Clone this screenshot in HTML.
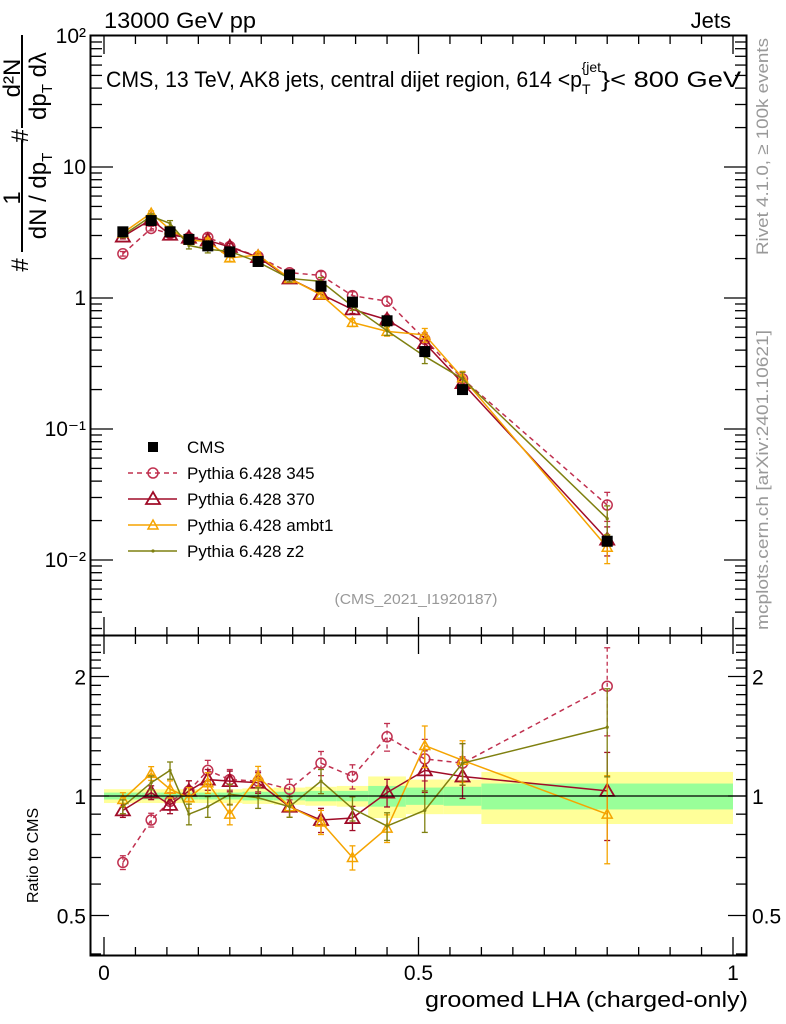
<!DOCTYPE html>
<html><head><meta charset="utf-8"><style>
html,body{margin:0;padding:0;background:#fff;}
svg{display:block;font-family:"Liberation Sans",sans-serif;}
</style></head><body>
<svg id="chart" width="786" height="1024" viewBox="0 0 786 1024" xmlns="http://www.w3.org/2000/svg">
<g id="bands"></g>
<g id="ticks"></g>
<g id="series"></g>
<rect x="90.5" y="35.5" width="656" height="600" fill="none" stroke="#000" stroke-width="2"/>
<rect x="90.5" y="635.5" width="656" height="320" fill="none" stroke="#000" stroke-width="2"/>
<line x1="91" x2="746" y1="796" y2="796" stroke="#000" stroke-width="1.3"/>
<text x="104" y="28" font-size="22" textLength="152" lengthAdjust="spacingAndGlyphs">13000 GeV pp</text>
<text x="731" y="28" font-size="22" text-anchor="end">Jets</text>
<text x="106" y="87" font-size="22"><tspan textLength="476" lengthAdjust="spacingAndGlyphs">CMS, 13 TeV, AK8 jets, central dijet region, 614 &lt;p</tspan><tspan font-size="14" dy="7">T</tspan><tspan font-size="14" dy="-22" dx="-9">{jet</tspan><tspan dy="15" textLength="140" lengthAdjust="spacingAndGlyphs">}&lt; 800 GeV</tspan></text>
<text x="416" y="604" font-size="15" fill="#999" text-anchor="middle" textLength="163" lengthAdjust="spacingAndGlyphs">(CMS_2021_I1920187)</text>
<text transform="translate(768,255) rotate(-90)" font-size="17" fill="#999" textLength="217" lengthAdjust="spacingAndGlyphs">Rivet 4.1.0, ≥ 100k events</text>
<text transform="translate(768,630) rotate(-90)" font-size="17" fill="#999" textLength="300" lengthAdjust="spacingAndGlyphs">mcplots.cern.ch [arXiv:2401.10621]</text>
<text x="748" y="1007" font-size="22" text-anchor="end" textLength="323" lengthAdjust="spacingAndGlyphs">groomed LHA (charged-only)</text>
<text transform="translate(38,903) rotate(-90)" font-size="16">Ratio to CMS</text>
<g font-size="24">
<text transform="translate(20,198) rotate(-90)" text-anchor="middle">1</text>
<text transform="translate(46,196) rotate(-90)" text-anchor="middle">dN / dp<tspan font-size="15" dy="6">T</tspan></text>
<line x1="22" x2="22" y1="140" y2="252" stroke="#000" stroke-width="2"/>
<text transform="translate(28,265) rotate(-90)" text-anchor="middle">#</text>
<text transform="translate(20,78) rotate(-90)" text-anchor="middle">d²N</text>
<text transform="translate(46,86) rotate(-90)" text-anchor="middle">dp<tspan font-size="15" dy="6">T</tspan><tspan dy="-6"> dλ</tspan></text>
<line x1="22" x2="22" y1="35" y2="128" stroke="#000" stroke-width="2"/>
<text transform="translate(28,136) rotate(-90)" text-anchor="middle">#</text>
</g>
<g id="legend"></g>
</svg>
<script>
const binEdges=[0,0.06,0.09,0.12,0.15,0.18,0.22,0.27,0.32,0.37,0.42,0.48,0.54,0.6,1.0];
const cmsValues=[3.2,3.9,3.2,2.8,2.5,2.25,1.9,1.5,1.23,0.93,0.67,0.39,0.2,0.0139];
const statBand=[0.02,0.02,0.02,0.02,0.02,0.02,0.025,0.025,0.03,0.03,0.06,0.05,0.055,0.075];
const totBand=[0.04,0.04,0.04,0.04,0.04,0.04,0.045,0.05,0.055,0.06,0.12,0.1,0.1,0.15];
const ratio345=[0.68,0.87,0.97,1.03,1.16,1.10,1.09,1.04,1.21,1.12,1.41,1.24,1.21,1.89];
const ratio370=[0.92,1.02,0.95,1.03,1.10,1.09,1.08,0.94,0.87,0.88,1.02,1.16,1.12,1.03];
const ratioAmbt1=[0.98,1.14,1.04,0.99,1.08,0.90,1.12,0.94,0.86,0.70,0.83,1.34,1.23,0.90];
const ratioZ2=[0.94,1.08,1.16,0.90,0.94,1.01,0.99,0.94,1.09,0.93,0.84,0.92,1.21,1.49];
const relErr=[0.04,0.04,0.05,0.06,0.06,0.06,0.06,0.06,0.07,0.07,0.08,0.12,0.12,0.25];
const yMainTicks=["10⁻²","10⁻¹","1","10","10²"];
const ratioTickLabels=["0.5","1","2"];
const xTickLabels=["0","0.5","1"];

const NS="http://www.w3.org/2000/svg";
const X=v=>104+629*v;
const Ym=v=>298-131*Math.log10(v);
const Yr=v=>796-397*Math.log10(v);
function mk(tag,attrs,parent){const e=document.createElementNS(NS,tag);for(const k in attrs)e.setAttribute(k,attrs[k]);parent.appendChild(e);return e;}
const centers=binEdges.slice(0,-1).map((e,i)=>(e+binEdges[i+1])/2);

const bands=document.getElementById('bands');
for(let i=0;i<cmsValues.length;i++){
  const x1=X(binEdges[i]),x2=X(binEdges[i+1]);
  const y=mk('rect',{x:x1,width:x2-x1,y:Yr(1+totBand[i]),height:Yr(1-totBand[i])-Yr(1+totBand[i]),fill:'#ffff99'},bands);
  
  
  const g=mk('rect',{x:x1,width:x2-x1,y:Yr(1+statBand[i]),height:Yr(1-statBand[i])-Yr(1+statBand[i]),fill:'#99ff99'},bands);
  
  
}

const T=document.getElementById('ticks');
function tk(x1,y1,x2,y2){mk('line',{x1,y1,x2,y2,stroke:'#000','stroke-width':1.3},T);}
function lbl(x,y,s,anchor,size){const t=mk('text',{x,y,'font-size':size||20,'text-anchor':anchor},T);t.textContent=s;}
for(let d=-3;d<=1;d++){for(let m=1;m<10;m++){const v=m*Math.pow(10,d);const y=Ym(v);if(y<36||y>635)continue;const L=m===1?22:11;tk(91,y,91+L,y);tk(746,y,746-L,y);}}
yMainTicks.forEach((s,i)=>{const y=Ym(Math.pow(10,i-2));lbl(86,y+7,s,'end',21);});
for(let v=0.4;v<=2.5;v+=0.1){const r=Math.round(v*10)/10;const y=Yr(r);if(y<636||y>955)continue;const L=(r===0.5||r===1||r===2)?18:10;tk(91,y,91+L,y);tk(746,y,746-L,y);}
[0.5,1,2].forEach((r,i)=>{const y=Yr(r);lbl(86,y+8,ratioTickLabels[i],'end',21);lbl(752,y+8,ratioTickLabels[i],'start',21);});
for(let k=0;k<=20;k++){const v=k*0.05,x=X(v);const L=(k%10===0)?18:8;tk(x,635,x,635-L);tk(x,36,x,36+L);tk(x,636,x,636+L);tk(x,955,x,955-L);}
[0,0.5,1].forEach((v,i)=>lbl(X(v),980,xTickLabels[i],'middle',21));

const S=document.getElementById('series');
const series=[
 {name:'pythia-345',r:ratio345,c:'#c0304f',dash:'5,4',m:'circle'},
 {name:'pythia-370',r:ratio370,c:'#a00c28',dash:'',m:'tri-big'},
 {name:'pythia-ambt1',r:ratioAmbt1,c:'#f5a400',dash:'',m:'tri'},
 {name:'pythia-z2',r:ratioZ2,c:'#7f8010',dash:'',m:'dot'}
];
function marker(m,x,y,c,parent){
  if(m==='circle')return mk('circle',{cx:x,cy:y,r:5,fill:'none',stroke:c,'stroke-width':1.5},parent);
  if(m==='tri-big')return mk('path',{d:`M${x},${y-7}L${x+7},${y+5}L${x-7},${y+5}Z`,fill:'none',stroke:c,'stroke-width':1.8},parent);
  if(m==='tri')return mk('path',{d:`M${x},${y-5}L${x+5},${y+4}L${x-5},${y+4}Z`,fill:'none',stroke:c,'stroke-width':1.5},parent);
  return mk('circle',{cx:x,cy:y,r:1.6,fill:c},parent);
}
series.forEach(s=>{
  const g=mk('g',{},S);
  
  
  const vals=s.r.map((r,i)=>r*cmsValues[i]);
  mk('polyline',{points:vals.map((v,i)=>X(centers[i])+','+Ym(v)).join(' '),fill:'none',stroke:s.c,'stroke-width':1.5,'stroke-dasharray':s.dash},g);
  mk('polyline',{points:s.r.map((v,i)=>X(centers[i])+','+Yr(v)).join(' '),fill:'none',stroke:s.c,'stroke-width':1.5,'stroke-dasharray':s.dash},g);
  s.r.forEach((r,i)=>{
    const x=X(centers[i]),e=relErr[i];
    [[Ym(vals[i]*(1+e)),Ym(vals[i]*(1-e))],[Yr(r*(1+e)),Yr(r*(1-e))]].forEach(([a,b])=>{
      mk('line',{x1:x,x2:x,y1:a,y2:b,stroke:s.c,'stroke-width':1.3,'stroke-dasharray':s.dash?'4,3':''},g);
      mk('line',{x1:x-3,x2:x+3,y1:a,y2:a,stroke:s.c,'stroke-width':1.3},g);
      mk('line',{x1:x-3,x2:x+3,y1:b,y2:b,stroke:s.c,'stroke-width':1.3},g);
    });
    const p=marker(s.m,x,Ym(vals[i]),s.c,g);
    
    
    const q=marker(s.m,x,Yr(r),s.c,g);
    
    
  });
});
cmsValues.forEach((v,i)=>{
  const r=mk('rect',{x:X(centers[i])-5.5,y:Ym(v)-5.5,width:11,height:11,fill:'#000'},S);
  
  
});

const Lg=document.getElementById('legend');
const legItems=[['CMS','#000','', 'sq'],['Pythia 6.428 345','#c0304f','5,4','circle'],['Pythia 6.428 370','#a00c28','','tri-big'],['Pythia 6.428 ambt1','#f5a400','','tri'],['Pythia 6.428 z2','#7f8010','','dot']];
legItems.forEach((it,i)=>{
  const y=447+i*26;
  const g=mk('g',{},Lg);
  
  
  if(it[3]==='sq'){mk('rect',{x:148,y:y-5,width:10,height:10,fill:'#000'},g);}
  else{mk('line',{x1:128,x2:177,y1:y,y2:y,stroke:it[1],'stroke-width':1.5,'stroke-dasharray':it[2]},g);marker(it[3],153,y,it[1],g);}
  const t=mk('text',{x:187,y:y+6,'font-size':17},g);t.textContent=it[0];
});
</script>
</body></html>
